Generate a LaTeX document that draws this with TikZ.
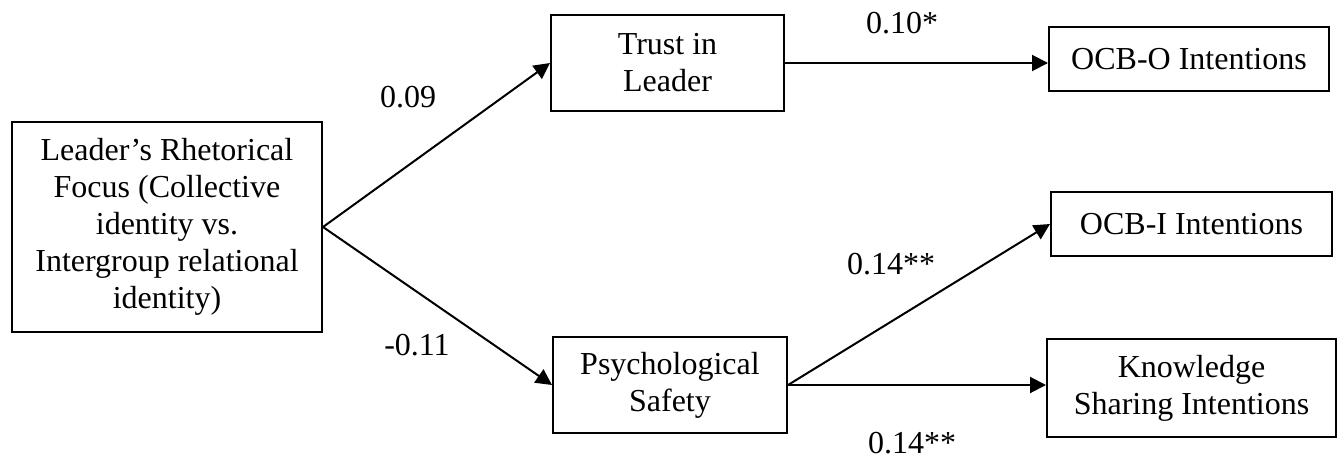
\documentclass[tikz,border=0pt]{standalone}
\usepackage{fontspec}
\setmainfont{Liberation Serif}
\usetikzlibrary{arrows.meta}
\begin{document}
\begin{tikzpicture}[x=1pt,y=-1pt,
  box/.style={draw,line width=2pt,rectangle,align=center,inner sep=0pt,
    font=\fontsize{32}{37}\selectfont},
  lbl/.style={font=\fontsize{32}{37}\selectfont,inner sep=0pt},
  conn/.style={line width=2pt,-{Triangle[length=16pt,width=16pt]}}]
\useasboundingbox (0,0) rectangle (1343,460);
\node[box,minimum width=310pt,minimum height=210pt] (lead) at (167,227)
  {Leader’s Rhetorical\\Focus (Collective\\identity vs.\\Intergroup relational\\identity)};
\node[box,minimum width=233pt,minimum height=96pt] (trust) at (667.5,63) {Trust in\\Leader};
\node[box,minimum width=280pt,minimum height=64pt] (ocbo) at (1189,59) {OCB-O Intentions};
\node[box,minimum width=234pt,minimum height=96pt] (psych) at (670,385) {Psychological\\Safety};
\node[box,minimum width=281pt,minimum height=64pt] (ocbi) at (1191.5,224) {OCB-I Intentions};
\node[box,minimum width=289pt,minimum height=98pt] (know) at (1191.5,388) {Knowledge\\Sharing Intentions};
\draw[conn] (lead.east) -- (trust.west);
\draw[conn] (lead.east) -- (psych.west);
\draw[conn] (trust.east) -- (trust.east -| ocbo.west);
\draw[conn] (psych.east) -- (ocbi.west);
\draw[conn] (psych.east) -- (psych.east -| know.west);
\node[lbl] (l1) at (408,97) {0.09};
\node[lbl] (l2) at (417,345) {-0.11};
\node[lbl] (l3) at (902,23) {0.10*};
\node[lbl] (l4) at (891,264) {0.14**};
\node[lbl] (l5) at (912,443) {0.14**};
\end{tikzpicture}
\end{document}
